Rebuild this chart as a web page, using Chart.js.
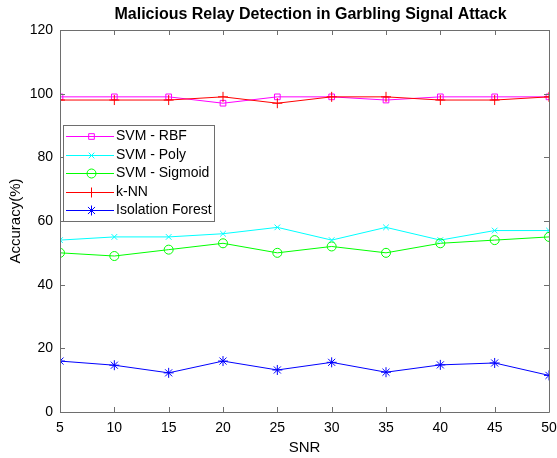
<!DOCTYPE html>
<html>
<head>
<meta charset="utf-8">
<script src="https://cdn.jsdelivr.net/npm/chart.js@4.4.1/dist/chart.umd.min.js"></script>
<style>
  body { margin: 0; background: #fff; }
  #wrap { width: 557px; height: 458px; position: relative; }
</style>
</head>
<body>
<div id="wrap"><canvas id="accChart"></canvas></div>
<script>
// SNR values and accuracy (%) per classifier
const snr = [5, 10, 15, 20, 25, 30, 35, 40, 45, 50];
const svmRbf     = [99, 99, 99, 97, 99, 99, 98, 99, 99, 99];
const svmPoly    = [54, 55, 55, 56, 58, 54, 58, 54, 57, 57];
const svmSigmoid = [50, 49, 51, 53, 50, 52, 50, 53, 54, 55];
const knn        = [98, 98, 98, 99, 97, 99, 99, 98, 98, 99];
const isoForest  = [16, 14.7, 12.3, 16, 13.2, 15.6, 12.5, 14.8, 15.4, 11.5];
const yTicks = [0, 20, 40, 60, 80, 100, 120];
const chartTitle = 'Malicious Relay Detection in Garbling Signal Attack';

const FONT = 'Arial, "Liberation Sans", sans-serif';

function series(label, values, color, style, radius, order) {
  return {
    label: label,
    data: snr.map((x, i) => ({ x: x, y: values[i] })),
    borderColor: color,
    backgroundColor: 'rgba(0,0,0,0)',
    pointBorderColor: color,
    pointBackgroundColor: 'rgba(0,0,0,0)',
    borderWidth: 1,
    pointStyle: style,
    pointRadius: radius,
    pointBorderWidth: 1,
    tension: 0,
    order: order
  };
}

const datasets = [
  series('SVM - RBF', svmRbf, '#ff00ff', 'rect', 4, 5),
  series('SVM - Poly', svmPoly, '#00ffff', 'crossRot', 4, 4),
  series('SVM - Sigmoid', svmSigmoid, '#00ff00', 'circle', 4.5, 3),
  series('k-NN', knn, '#ff0000', 'cross', 5, 2),
  series('Isolation Forest', isoForest, '#0000ff', 'star', 5, 1)
];

// MATLAB style box with inward ticks, plus the title over the axes
const boxPlugin = {
  id: 'box',
  afterDatasetsDraw(chart) {
    const { ctx, chartArea: a, scales } = chart;
    ctx.save();
    ctx.strokeStyle = '#6e6e6e';
    ctx.lineWidth = 1;
    ctx.beginPath();
    ctx.rect(a.left + 0.5, a.top + 0.5, a.right - a.left, a.bottom - a.top);
    snr.forEach(v => {
      const px = Math.round(scales.x.getPixelForValue(v)) + 0.5;
      ctx.moveTo(px, a.bottom); ctx.lineTo(px, a.bottom - 5);
      ctx.moveTo(px, a.top); ctx.lineTo(px, a.top + 5);
    });
    yTicks.forEach(v => {
      const py = Math.round(scales.y.getPixelForValue(v)) + 0.5;
      ctx.moveTo(a.left, py); ctx.lineTo(a.left + 5, py);
      ctx.moveTo(a.right, py); ctx.lineTo(a.right - 5, py);
    });
    ctx.stroke();

    ctx.fillStyle = '#000';
    ctx.font = 'bold 16px ' + FONT;
    ctx.textAlign = 'center';
    ctx.textBaseline = 'middle';
    ctx.fillText(chartTitle, (a.left + a.right) / 2 + 6, 15);
    ctx.restore();
  }
};

// legend box in the upper left of the plot
const legendPlugin = {
  id: 'boxLegend',
  afterDraw(chart) {
    const { ctx } = chart;
    const x0 = 63, y0 = 125, w = 151, h = 96;
    ctx.save();
    ctx.fillStyle = '#fff';
    ctx.fillRect(x0, y0, w, h);
    ctx.strokeStyle = '#6e6e6e';
    ctx.lineWidth = 1;
    ctx.strokeRect(x0 + 0.5, y0 + 0.5, w, h);
    ctx.font = '14px ' + FONT;
    ctx.textBaseline = 'middle';
    chart.data.datasets.forEach((ds, i) => {
      const yi = Math.round(y0 + 11 + i * 18.5);
      ctx.fillStyle = ds.borderColor;
      ctx.fillRect(x0 + 3, yi, 48, 1);
      ctx.fillStyle = 'rgba(0,0,0,0)';
      ctx.strokeStyle = ds.borderColor;
      ctx.lineWidth = 1;
      Chart.helpers.drawPoint(ctx, {
        pointStyle: ds.pointStyle, radius: ds.pointRadius, borderWidth: 1, rotation: 0
      }, x0 + 28.5, yi + 0.5);
      ctx.fillStyle = '#000';
      ctx.fillText(ds.label, x0 + 53, yi + 0.5);
    });
    ctx.restore();
  }
};

new Chart(document.getElementById('accChart'), {
  type: 'line',
  data: { datasets: datasets },
  plugins: [boxPlugin, legendPlugin],
  options: {
    responsive: true,
    maintainAspectRatio: false,
    animation: false,
    layout: { padding: { left: 0, right: 8, top: 30, bottom: 0 } },
    plugins: {
      legend: { display: false },
      tooltip: { enabled: false },
      title: { display: false }
    },
    scales: {
      x: {
        type: 'linear',
        min: 5, max: 50,
        afterFit(scale) {
          scale.height = 46;
          scale.paddingLeft = 0;
          scale.paddingRight = 0;
        },
        afterBuildTicks(scale) { scale.ticks = snr.map(v => ({ value: v })); },
        grid: { display: false, drawTicks: false },
        border: { display: false },
        ticks: { color: '#000', padding: 8, font: { family: FONT, size: 14 }, maxRotation: 0 },
        title: {
          display: true, text: 'SNR', color: '#000',
          font: { family: FONT, size: 15 },
          padding: { top: 0, bottom: 1 }
        }
      },
      y: {
        min: 0, max: 120,
        afterFit(scale) {
          scale.width = 60;
          scale.paddingTop = 0;
          scale.paddingBottom = 0;
        },
        afterBuildTicks(scale) { scale.ticks = yTicks.map(v => ({ value: v })); },
        grid: { display: false, drawTicks: false },
        border: { display: false },
        ticks: { color: '#000', padding: 7, font: { family: FONT, size: 14 } },
        title: {
          display: true, text: 'Accuracy(%)', color: '#000',
          font: { family: FONT, size: 15 },
          padding: { top: 7, bottom: 0 }
        }
      }
    }
  }
});
</script>
</body>
</html>
